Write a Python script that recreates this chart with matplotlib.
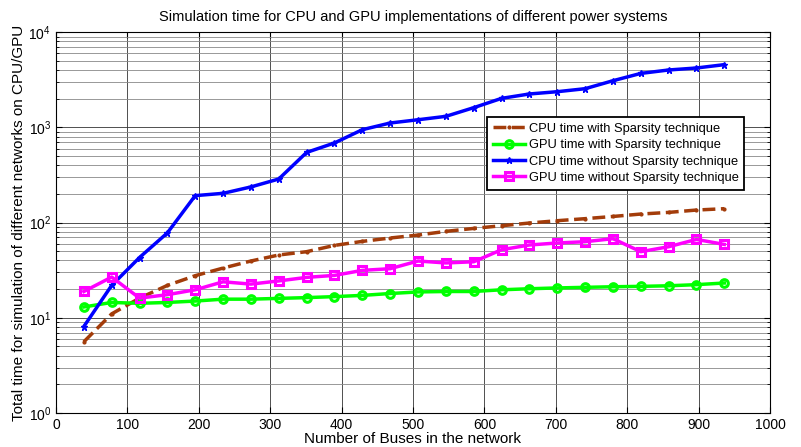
import numpy as np
import matplotlib
matplotlib.use("Agg")
import matplotlib.pyplot as plt

plt.rcParams['font.family'] = ['Liberation Sans', 'DejaVu Sans']

# number of buses in each test network
buses = [39, 78, 117, 156, 195, 234, 273, 312, 351, 390, 429, 468,
         507, 546, 585, 624, 663, 702, 741, 780, 819, 858, 897, 936]

cpu_sparse = [5.6, 11, 16.1, 21.9, 27.7, 33.3, 39.5, 45.7, 49.5, 57.6, 63.5, 68.9,
              74, 80.9, 86.9, 92.7, 99, 104.7, 110, 116, 123, 128, 135.5, 140]
gpu_sparse = [13, 14.5, 14.2, 14.5, 15, 15.7, 15.7, 16, 16.3, 16.7, 17.2, 18,
              18.7, 18.9, 18.9, 19.7, 20.2, 20.6, 20.9, 21.2, 21.4, 21.7, 22.3, 23.2]
cpu_dense = [8.1, 21.9, 43, 78, 192, 203, 237, 287, 546, 686, 946, 1112,
             1203, 1306, 1611, 2018, 2244, 2371, 2549, 3091, 3690, 4008, 4207, 4560]
gpu_dense = [18.9, 26.8, 16.1, 17.5, 19.7, 23.9, 22.6, 24.4, 26.6, 27.9, 31.5, 32.8,
             39.5, 37.7, 38.8, 51.9, 58.2, 61.1, 63, 67.8, 49.5, 55.8, 66.6, 59]

fig = plt.figure(figsize=(8.01, 4.47), dpi=100)
ax = fig.add_axes([0.0699, 0.076, 0.8914, 0.852])

ax.plot(buses, cpu_sparse, '--', color='#A33C0A', lw=2.5, marker='.', ms=4,
        label='CPU time with Sparsity technique')
ax.plot(buses, gpu_sparse, '-', color='#00FF00', lw=2.5, marker='o', ms=5.5,
        mfc='none', mew=2.2, label='GPU time with Sparsity technique')
ax.plot(buses, cpu_dense, '-', color='#0000FF', lw=2.5, marker='*', ms=5,
        label='CPU time without Sparsity technique')
ax.plot(buses, gpu_dense, '-', color='#FF00FF', lw=2.5, marker='s', ms=5.5,
        mfc='none', mew=2.2, label='GPU time without Sparsity technique')

ax.set_yscale('log')
ax.set_xlim(0, 1000)
ax.set_ylim(1, 1e4)
ax.set_xticks(np.arange(0, 1001, 100))
ax.grid(True, which='major', color='#333333', lw=0.6)
ax.grid(True, which='minor', axis='y', color='#888888', lw=0.6)
ax.tick_params(which='both', direction='in', top=True, right=True, labelsize=10)
ax.tick_params(which='major', length=4)
ax.tick_params(which='minor', length=2)

ax.set_title('Simulation time for CPU and GPU implementations of different power systems',
             fontsize=10.5, pad=8)
ax.set_xlabel('Number of Buses in the network', fontsize=11, labelpad=0)
ax.set_ylabel('Total time for simulation of different networks on CPU/GPU', fontsize=11, labelpad=2)

leg = ax.legend(loc='upper right', bbox_to_anchor=(0.964, 0.777), fontsize=9.3,
                fancybox=False, framealpha=1, edgecolor='k', borderpad=0.45,
                labelspacing=0.33, handlelength=2.5, handletextpad=0.25, borderaxespad=0)
leg.get_frame().set_linewidth(1.3)

fig.savefig('out.png', dpi=100)
